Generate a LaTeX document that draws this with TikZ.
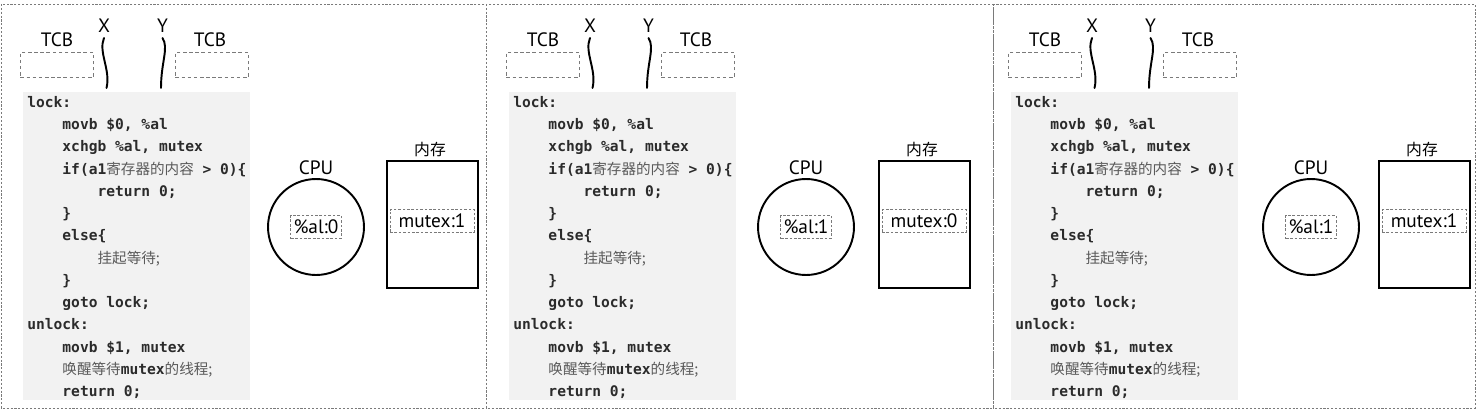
\documentclass[tikz,border=0pt]{standalone}
\usepackage{fontspec}
\setmainfont{PT Sans}
\setmonofont{DejaVu Sans Mono}
\newfontfamily\cjkfont{Noto Sans CJK SC}
\usetikzlibrary{positioning}

\definecolor{codebg}{HTML}{F2F2F2}
\definecolor{codefg}{HTML}{2B2B2B}
\definecolor{cjkfg}{HTML}{5A5A5A}
\definecolor{framegray}{HTML}{7A7A7A}

% code listing shown in every panel
\newcommand{\ind}{\hphantom{0000}}
\newcommand{\zh}[1]{{\cjkfont\mdseries\color{cjkfg}#1}}
\newcommand{\codetext}{%
lock:\\
\ind movb \$0, \%al\\
\ind xchgb \%al, mutex\\
\ind if(a1\zh{寄存器的内容} > 0)\{\\
\ind\ind return 0;\\
\ind\}\\
\ind else\{\\
\ind\ind\zh{挂起等待;}\\
\ind\}\\
\ind goto lock;\\
unlock:\\
\ind movb \$1, mutex\\
\ind\zh{唤醒等待}mutex\zh{的线程;}\\
\ind return 0;}

\tikzset{
  frame/.style={draw=framegray, dash pattern=on 1.2pt off 1pt, line width=0.5pt},
  tcbbox/.style={draw=framegray, dash pattern=on 2pt off 1.5pt, line width=0.5pt,
    minimum width=1.46cm, minimum height=0.5cm, inner sep=0, anchor=north west},
  codebox/.style={fill=codebg, anchor=north west, minimum width=4.54cm,
    minimum height=6.16cm, inner sep=0},
  codetxt/.style={anchor=north west, inner sep=0, align=left, text=codefg,
    font=\ttfamily\bfseries\fontsize{8.3}{12.66}\selectfont},
  lbl/.style={font=\fontsize{11}{13}\selectfont, inner sep=0},
  cpubox/.style={circle, draw, line width=1.1pt, minimum size=1.92cm, inner sep=0},
  memrect/.style={draw, line width=1.3pt, minimum width=1.82cm, minimum height=2.54cm, inner sep=0},
  regbox/.style={draw=framegray, dash pattern=on 1.5pt off 1pt, line width=0.5pt,
    minimum height=0.46cm, inner xsep=1.5pt, inner ysep=0, font=\fontsize{11}{13}\selectfont},
  thread/.style={line width=1.1pt, line cap=round}
}

\begin{document}
\begin{tikzpicture}[x=0.02cm, y=-0.02cm]
\useasboundingbox (0,0) rectangle (1476,412);

% panel frames
\draw[frame] (1,4) rectangle (486,408);
\draw[frame] (486,4) rectangle (993,408);
\draw[frame] (993,4) rectangle (1475,408);

\foreach \i/\xo/\cx/\mx/\aval/\mval in {1/23/316/387/0/1, 2/509/806/879/1/0, 3/1011/1311/1379/1/1}
{
  % threads and TCBs
  \path
  ({\xo-3},52) node[tcbbox] (tcbl\i) {}
  ({\xo+152},52) node[tcbbox] (tcbr\i) {}
  ({\xo+34},40) node[lbl] (tcbtl\i) {TCB}
  ({\xo+187},40) node[lbl] (tcbtr\i) {TCB}
  ({\xo+81},26) node[lbl] (thx\i) {X}
  ({\xo+139.5},26) node[lbl] (thy\i) {Y};

  \draw[thread] ({\xo+81},38) .. controls ({\xo+75},52) and ({\xo+88},70) .. ({\xo+83.5},88);
  \draw[thread] ({\xo+139.5},38) .. controls ({\xo+146},48) and ({\xo+138},62) .. ({\xo+138},88);

  % code
  \path
  (\xo,92) node[codebox] (code\i) {}
  ({\xo+4},96) node[codetxt] (src\i) {\codetext};

  % cpu and memory
  \path
  (\cx,227) node[cpubox] (cpu\i) {}
  (\cx,168) node[lbl] (cpul\i) {CPU}
  (\cx,227) node[regbox] (al\i) {\%al:\aval}
  ({\mx+45.5},224.5) node[memrect] (mem\i) {}
  ({\mx+43},150) node[font=\cjkfont\fontsize{9}{10}\selectfont, inner sep=0] (meml\i) {内存}
  ({\mx+45},221) node[regbox, minimum width=1.68cm] (mu\i) {mutex:\mval};
}

\end{tikzpicture}
\end{document}
